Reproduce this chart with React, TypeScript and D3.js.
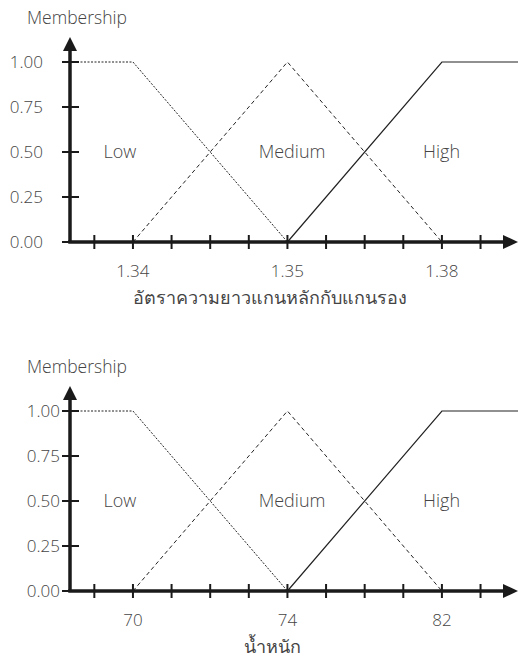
import React from "react";
import * as d3 from "d3";

const yTickValues = [0, 0.25, 0.5, 0.75, 1];
const yTickLabels = ["0.00", "0.25", "0.50", "0.75", "1.00"];
const xTickIndices = [0, 1, 2, 3, 4, 5, 6, 7, 8, 9, 10];
const xDomain = [-0.63, 10.97];

const lowPoints: [number, number][] = [[-0.63, 1], [1, 1], [5, 0]];
const mediumPoints: [number, number][] = [[1, 0], [5, 1], [9, 0]];
const highPoints: [number, number][] = [[5, 0], [9, 1], [10.97, 1]];

const termNames = ["Low", "Medium", "High"];
const termPositions = [0.66, 5.12, 8.99];

const chart1Labels = [{ i: 1, t: "1.34" }, { i: 5, t: "1.35" }, { i: 9, t: "1.38" }];
const chart1Title = "อัตราความยาวแกนหลักกับแกนรอง";
const chart2Labels = [{ i: 1, t: "70" }, { i: 5, t: "74" }, { i: 9, t: "82" }];
const chart2Title = "น้ำหนัก";

const FONT = "'Open Sans', 'Noto Sans', 'DejaVu Sans', sans-serif";
const TXT = "#444";
const W = 300;

function Chart({ offset, labels, title, yLabelRight, titleX }: any) {
  const x = d3.scaleLinear().domain(xDomain).range([70, 518]);
  const y = d3.scaleLinear().domain([0, 1]).range([242 + offset, 62 + offset]);
  const line = d3.line<[number, number]>().x((d) => x(d[0])).y((d) => y(d[1]));
  const x0 = 70;
  const y0 = y(0);
  return (
    <g>
      <text x={27} y={24 + offset} fontSize={17.5} fontWeight={W} fill={TXT} fontFamily={FONT}>Membership</text>
      <path d={line(lowPoints)!} fill="none" stroke="#222" strokeWidth={1} strokeDasharray="2,1.5" />
      <path d={line(mediumPoints)!} fill="none" stroke="#222" strokeWidth={1} strokeDasharray="4,3" />
      <path d={line(highPoints)!} fill="none" stroke="#222" strokeWidth={1.2} />
      {termNames.map((n, i) => (
        <text key={n} x={x(termPositions[i])} y={y(0.5)} dy="0.35em" textAnchor="middle" fontSize={18} fontWeight={W} fill={TXT} fontFamily={FONT}>{n}</text>
      ))}
      <line x1={x0} y1={y0} x2={x0} y2={37 + offset + 12} stroke="#1a1a1a" strokeWidth={3.5} />
      <path d={`M${x0 - 7},${37 + offset + 14} L${x0},${37 + offset} L${x0 + 7},${37 + offset + 14} Z`} fill="#1a1a1a" />
      <line x1={x0 - 1.75} y1={y0} x2={505} y2={y0} stroke="#1a1a1a" strokeWidth={3.5} />
      <path d={`M503,${y0 - 7} L518,${y0} L503,${y0 + 7} Z`} fill="#1a1a1a" />
      {yTickValues.map((v, i) => (
        <g key={v}>
          <line x1={62} x2={79} y1={y(v)} y2={y(v)} stroke="#1a1a1a" strokeWidth={2} />
          <text x={yLabelRight} y={y(v)} dy="0.35em" textAnchor="end" fontSize={17} fontWeight={W} fill={TXT} fontFamily={FONT}>{yTickLabels[i]}</text>
        </g>
      ))}
      {xTickIndices.map((t) => (
        <line key={t} x1={x(t)} x2={x(t)} y1={y0 - 7} y2={y0 + 7} stroke="#1a1a1a" strokeWidth={2} />
      ))}
      {labels.map((l: any) => (
        <text key={l.t} x={x(l.i)} y={y0 + 29} dy="0.35em" textAnchor="middle" fontSize={17} fontWeight={W} fill={TXT} fontFamily={FONT}>{l.t}</text>
      ))}
      <text x={titleX} y={y0 + 56} dy="0.35em" textAnchor="middle" fontSize={18} fontWeight={W} fill={TXT} fontFamily={FONT}>{title}</text>
    </g>
  );
}

export default function App() {
  return (
    <svg width={518} height={660} style={{ position: "absolute", left: 0, top: 0 }}>
      <rect width={518} height={660} fill="#fff" />
      <Chart offset={0} labels={chart1Labels} title={chart1Title} yLabelRight={43} titleX={270} />
      <Chart offset={349} labels={chart2Labels} title={chart2Title} yLabelRight={60} titleX={272} />
    </svg>
  );
}
